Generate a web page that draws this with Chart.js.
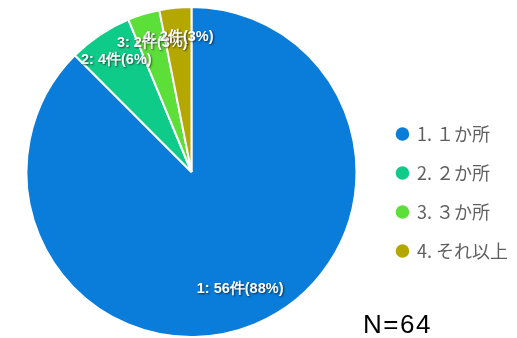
<!DOCTYPE html>
<html>
<head>
<meta charset="utf-8">
<script src="https://cdn.jsdelivr.net/npm/chart.js@4"></script>
<style>
  html, body { margin: 0; padding: 0; background: #fff; }
  #wrap { position: relative; width: 517px; height: 338px; }
</style>
</head>
<body>
<div id="wrap"><canvas id="myChart" width="517" height="338"></canvas></div>
<script>
var categories = ['1. １か所', '2. ２か所', '3. ３か所', '4. それ以上'];
var counts = [56, 4, 2, 2];
var colors = ['#0a7cd9', '#0fcb8a', '#5ddf3a', '#b4a700'];
var totalLabel = 'N=64';

var total = counts.reduce(function (a, b) { return a + b; }, 0);

// slice labels like "1: 56件(88%)"
var sliceLabels = counts.map(function (v, i) {
	return (i + 1) + ': ' + v + '件(' + Math.round(v / total * 100) + '%)';
});

var sliceLabelPlugin = {
	id: 'sliceLabels',
	afterDatasetsDraw: function (chart) {
		var ctx = chart.ctx;
		var meta = chart.getDatasetMeta(0);
		ctx.save();
		ctx.font = 'bold 14.5px "Liberation Sans", Arial, sans-serif';
		ctx.textAlign = 'center';
		ctx.textBaseline = 'middle';
		ctx.shadowColor = 'rgba(0,0,0,0.6)';
		ctx.shadowOffsetX = 1;
		ctx.shadowOffsetY = 1;
		ctx.shadowBlur = 2;
		ctx.fillStyle = '#fff';
		meta.data.forEach(function (arc, i) {
			var p = arc.getProps(['x', 'y', 'startAngle', 'endAngle', 'outerRadius'], true);
			var mid = (p.startAngle + p.endAngle) / 2;
			var d = p.outerRadius * (i === 0 ? 0.77 : 0.82);
			ctx.fillText(sliceLabels[i], p.x + Math.cos(mid) * d, p.y + Math.sin(mid) * d);
		});
		ctx.restore();
	}
};

var totalPlugin = {
	id: 'totalText',
	afterDraw: function (chart) {
		var ctx = chart.ctx;
		ctx.save();
		ctx.font = '26px "Liberation Sans", Arial, sans-serif';
		ctx.letterSpacing = '1.5px';
		ctx.fillStyle = '#000';
		ctx.textAlign = 'left';
		ctx.textBaseline = 'alphabetic';
		ctx.fillText(totalLabel, 363, 333);
		ctx.restore();
	}
};

var ctx = document.getElementById('myChart');

window.myPie = new Chart(ctx, {
	type: 'pie',
	data: {
		labels: categories,
		datasets: [
			{
				data: counts,
				backgroundColor: colors,
				borderColor: '#fff',
				borderWidth: 2
			}
		]
	},
	options: {
		responsive: false,
		animation: false,
		layout: { padding: { top: 6, bottom: 0, left: 7, right: -1 } },
		plugins: {
			tooltip: { enabled: false },
			legend: {
				position: 'right',
				align: 'center',
				// empty title just pushes the items down a bit
				title: { display: true, text: ' ', font: { size: 10 }, padding: 14.5 },
				labels: {
					usePointStyle: true,
					pointStyle: 'circle',
					boxWidth: 11,
					boxHeight: 11,
					padding: 21,
					color: '#5f5f5f',
					font: { family: '"Noto Sans CJK JP", sans-serif', size: 18 }
				}
			}
		}
	},
	plugins: [sliceLabelPlugin, totalPlugin]
});
</script>
</body>
</html>
